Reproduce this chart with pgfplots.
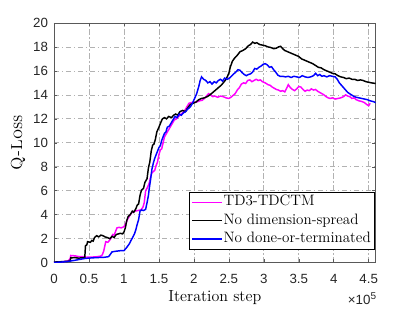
\documentclass[border=0pt]{standalone}
\usepackage{fontspec}
\usepackage{pgfplots}
\pgfplotsset{compat=1.18}
\newfontfamily\arialfont{Liberation Sans}
\definecolor{axgray}{rgb}{0.35,0.35,0.35}
\definecolor{gridgray}{rgb}{0.70,0.70,0.70}
\definecolor{mmag}{rgb}{1,0,1}
\definecolor{mblue}{rgb}{0,0,1}
\begin{document}
\begin{tikzpicture}
\useasboundingbox (-40.5pt,-36.98pt) rectangle (270.75pt,197pt);
\begin{axis}[
  scale only axis,
  width=241.3pt, height=179.8pt,
  xmin=0, xmax=4.6, ymin=0, ymax=20,
  xtick={0,0.5,1,1.5,2,2.5,3,3.5,4,4.5},
  xticklabels={0,0.5,1,1.5,2,2.5,3,3.5,4,4.5},
  ytick={0,2,4,6,8,10,12,14,16,18,20},
  scaled x ticks=false,
  /pgf/number format/assume math mode=true,
  tick label style={font=\arialfont\fontsize{10}{12}\selectfont, text=black!85},
  xticklabel style={yshift=-5pt},
  yticklabel style={xshift=-1pt},
  tick align=inside,
  major tick length=2.5pt,
  tick style={axgray, line width=0.4pt},
  axis line style={axgray, line width=0.5pt},
  grid=major,
  major grid style={gridgray, line width=0.5pt, dash pattern=on 4pt off 2pt on 1pt off 2pt},
  xlabel={Iteration step},
  ylabel={\textsc{Q-Loss}},
  label style={font=\fontsize{12}{14}\selectfont},
  xlabel style={at={(axis description cs:0.5,-0.146)}, anchor=center},
  ylabel style={at={(axis description cs:-0.112,0.5)}, anchor=center},
  every axis plot/.append style={line width=1.1pt, mark=none},
]
\addplot[color=mmag] coordinates {
(0,0.02) (0.1,0.05) (0.2,0.15) (0.23,0.3) (0.24,0.6) (0.3,0.57) (0.36,0.5) (0.43,0.5)
(0.45,0.45) (0.55,0.47) (0.62,0.5) (0.67,0.55) (0.69,0.65) (0.71,0.95) (0.74,1.75)
(0.77,1.7) (0.80,1.9) (0.82,2.1) (0.84,2.35) (0.86,2.3) (0.88,2.6) (0.90,2.9) (0.93,2.95)
(0.96,2.9) (1.0,3.0) (1.03,3.3) (1.05,3.6) (1.08,3.9) (1.10,4.1) (1.13,4.25) (1.16,4.3)
(1.20,4.35) (1.24,4.4) (1.27,4.6) (1.29,5.0) (1.31,6.0) (1.33,6.2) (1.36,6.6) (1.38,7.1)
(1.40,7.5) (1.42,7.6) (1.44,7.7) (1.46,8.1) (1.48,8.4) (1.50,9.0) (1.52,9.4) (1.54,9.5)
(1.56,10.0) (1.58,10.5) (1.60,10.7) (1.62,10.9) (1.64,11.1) (1.66,11.3) (1.69,11.6)
(1.72,11.9) (1.75,12.0) (1.78,12.2) (1.81,12.35) (1.84,12.5) (1.87,12.7) (1.90,13.0)
(1.93,13.3) (1.96,13.35) (2.00,13.4) (2.04,13.4) (2.08,13.5) (2.12,13.55) (2.15,13.7)
(2.18,13.9) (2.21,14.1) (2.24,14.0) (2.27,13.85) (2.30,13.9) (2.34,13.8) (2.38,13.9)
(2.42,13.85) (2.46,13.75) (2.50,13.7) (2.53,13.8) (2.56,13.95) (2.59,14.1) (2.62,14.4)
(2.65,14.6) (2.68,14.9) (2.71,15.0) (2.74,14.95) (2.77,15.2) (2.80,15.25) (2.83,15.1)
(2.86,15.2) (2.89,15.3) (2.92,15.2) (2.95,15.25) (2.98,15.1) (3.02,15.0) (3.06,14.85)
(3.09,14.8) (3.12,14.65) (3.15,14.55) (3.18,14.45) (3.21,14.4) (3.24,14.3) (3.27,14.35)
(3.30,14.25) (3.33,14.6) (3.35,14.85) (3.38,14.6) (3.41,14.45) (3.44,14.35) (3.47,14.5)
(3.50,14.7) (3.53,14.65) (3.56,14.45) (3.59,14.3) (3.62,14.4) (3.65,14.35) (3.68,14.5)
(3.71,14.4) (3.74,14.45) (3.77,14.3) (3.80,14.2) (3.83,14.1) (3.86,14.0) (3.89,13.85)
(3.92,13.75) (3.95,13.7) (3.98,13.75) (4.02,13.65) (4.06,13.7) (4.10,13.75) (4.14,13.85)
(4.17,14.0) (4.20,13.9) (4.23,13.85) (4.26,13.7) (4.29,13.75) (4.32,13.6) (4.36,13.5)
(4.40,13.45) (4.44,13.35) (4.47,13.2) (4.50,13.1) (4.52,13.3)
};
\addplot[color=black] coordinates {
(0,0.05) (0.1,0.08) (0.2,0.12) (0.23,0.15) (0.24,0.4) (0.3,0.42) (0.35,0.38) (0.44,0.42)
(0.45,1.4) (0.47,1.5) (0.48,1.75) (0.52,1.7) (0.54,1.85) (0.56,1.8) (0.58,2.1) (0.61,2.25)
(0.64,2.15) (0.67,2.3) (0.70,2.25) (0.73,2.15) (0.76,2.1) (0.80,2.0) (0.83,2.2) (0.86,2.1)
(0.89,2.35) (0.92,2.4) (0.95,2.45) (0.98,2.4) (1.0,2.55) (1.02,2.9) (1.04,3.5) (1.06,3.85)
(1.09,4.0) (1.12,4.3) (1.14,4.2) (1.17,4.5) (1.19,4.8) (1.21,4.9) (1.23,5.6) (1.25,6.05)
(1.28,6.2) (1.30,6.7) (1.33,7.0) (1.35,7.9) (1.37,8.4) (1.39,9.3) (1.41,9.8) (1.43,9.9)
(1.45,10.3) (1.47,10.9) (1.50,11.3) (1.52,11.6) (1.55,12.0) (1.58,12.1) (1.61,12.0)
(1.64,12.2) (1.68,12.1) (1.71,12.3) (1.74,12.4) (1.77,12.3) (1.80,12.6) (1.84,12.7)
(1.88,12.6) (1.91,12.9) (1.95,13.2) (1.99,13.3) (2.03,13.4) (2.07,13.6) (2.11,13.7)
(2.15,13.75) (2.19,13.85) (2.23,14.0) (2.27,14.2) (2.31,14.4) (2.35,14.6) (2.39,14.8)
(2.42,15.0) (2.46,15.3) (2.50,15.8) (2.52,16.3) (2.55,16.8) (2.58,17.05) (2.62,17.3)
(2.66,17.6) (2.70,17.7) (2.74,17.85) (2.78,18.1) (2.81,18.2) (2.84,18.4) (2.87,18.3)
(2.90,18.35) (2.94,18.2) (2.98,18.15) (3.02,18.1) (3.06,18.0) (3.10,17.95) (3.14,17.85)
(3.18,17.9) (3.21,18.0) (3.24,18.05) (3.27,17.85) (3.30,17.7) (3.34,17.6) (3.38,17.5)
(3.42,17.4) (3.46,17.3) (3.50,17.2) (3.54,17.0) (3.58,16.9) (3.62,16.8) (3.66,16.7)
(3.70,16.6) (3.74,16.45) (3.78,16.3) (3.82,16.25) (3.86,16.1) (3.90,16.0) (3.94,15.9)
(3.98,15.8) (4.02,15.75) (4.06,15.6) (4.10,15.5) (4.14,15.45) (4.18,15.35) (4.22,15.4)
(4.26,15.3) (4.30,15.3) (4.34,15.2) (4.38,15.25) (4.42,15.2) (4.46,15.1) (4.50,15.05)
(4.54,15.0) (4.60,14.95)
};
\addplot[color=mblue] coordinates {
(0,0.02) (0.1,0.05) (0.2,0.1) (0.3,0.2) (0.44,0.35) (0.5,0.38) (0.6,0.42) (0.72,0.45)
(0.78,0.5) (0.80,0.65) (0.83,0.9) (0.88,0.95) (0.95,1.0) (1.0,1.0) (1.03,1.2) (1.05,1.35)
(1.08,1.6) (1.10,1.85) (1.12,2.05) (1.15,2.4) (1.17,2.75) (1.19,3.2) (1.21,3.6) (1.23,4.3)
(1.25,4.4) (1.28,4.35) (1.31,4.45) (1.33,5.0) (1.35,5.6) (1.36,6.1) (1.38,6.9) (1.40,7.8)
(1.42,8.3) (1.44,8.7) (1.46,9.0) (1.48,9.3) (1.50,9.6) (1.52,9.75) (1.54,10.2) (1.56,10.5)
(1.58,10.8) (1.60,10.9) (1.62,11.3) (1.65,11.4) (1.68,11.7) (1.70,11.9) (1.73,12.2)
(1.76,12.1) (1.79,12.4) (1.82,12.3) (1.85,12.5) (1.88,12.6) (1.91,12.8) (1.95,13.0)
(1.98,13.3) (2.01,13.7) (2.04,14.1) (2.07,14.7) (2.09,15.2) (2.11,15.5) (2.14,15.3)
(2.17,15.2) (2.20,15.0) (2.23,15.1) (2.26,14.9) (2.29,15.1) (2.32,15.0) (2.35,15.2)
(2.38,15.3) (2.41,15.15) (2.44,15.4) (2.48,15.3) (2.52,15.45) (2.56,15.7) (2.60,15.9)
(2.63,16.1) (2.66,16.05) (2.69,15.85) (2.72,15.7) (2.75,15.6) (2.78,15.7) (2.81,15.75)
(2.84,15.9) (2.87,16.2) (2.90,16.15) (2.93,16.3) (2.96,16.4) (2.99,16.55) (3.02,16.6)
(3.05,16.5) (3.08,16.3) (3.11,16.35) (3.14,16.1) (3.17,15.9) (3.20,15.65) (3.23,15.55)
(3.27,15.55) (3.31,15.5) (3.35,15.55) (3.39,15.45) (3.43,15.55) (3.47,15.5) (3.51,15.45)
(3.55,15.6) (3.59,15.5) (3.63,15.45) (3.67,15.5) (3.71,15.6) (3.74,15.8) (3.77,15.6)
(3.80,15.7) (3.83,15.55) (3.86,15.6) (3.90,15.5) (3.94,15.6) (3.98,15.55) (4.02,15.5)
(4.05,15.3) (4.08,15.0) (4.11,14.8) (4.14,14.6) (4.17,14.4) (4.20,14.2) (4.24,14.05)
(4.28,13.9) (4.32,13.8) (4.36,13.75) (4.40,13.7) (4.44,13.65) (4.48,13.6) (4.52,13.5)
(4.56,13.45) (4.60,13.35)
};
\end{axis}
% legend box (drawn beside the axis)
\draw[fill=white, draw=black, line width=0.5pt] (101.25pt,10.3pt) rectangle (240.2pt,52.8pt);
\draw[mmag, line width=1.1pt] (103.5pt,45.3pt) -- (126pt,45.3pt);
\draw[black, line width=1.1pt] (103.5pt,31.5pt) -- (126pt,31.5pt);
\draw[mblue, line width=1.1pt] (103.5pt,17.8pt) -- (126pt,17.8pt);
\begin{scope}[every node/.style={anchor=west, inner sep=0pt, text height=7.8pt, text depth=2.4pt,
    font=\fontsize{11.3}{13}\selectfont}]
\node at (127pt,45.3pt) {TD3-TDCTM};
\node at (127pt,31.5pt) {No dimension-spread};
\node at (127pt,17.8pt) {No done-or-terminated};
\end{scope}
\node[anchor=north east, inner sep=0pt, text=black!85] at (241.8pt,-22pt)
  {\arialfont\fontsize{10}{12}\selectfont ×10\raisebox{0.8ex}{\fontsize{7.5}{8}\selectfont 5}};
\end{tikzpicture}
\end{document}
